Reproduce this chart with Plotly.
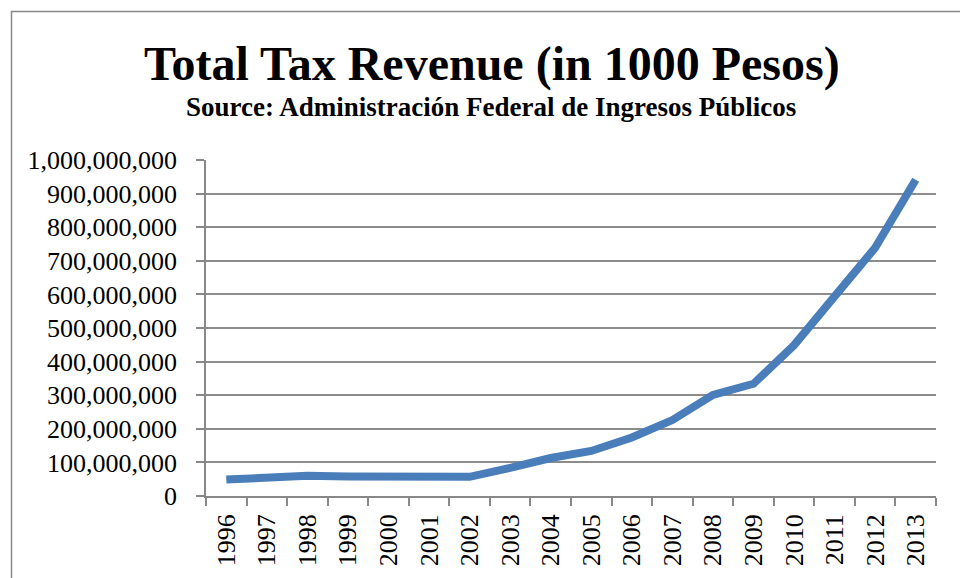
import plotly.graph_objects as go

years = [str(y) for y in range(1996, 2014)]
revenue = [49e6, 57e6, 60e6, 58e6, 58e6, 54e6, 57e6, 84e6, 113e6, 134e6,
           174e6, 226e6, 301e6, 334e6, 449e6, 594e6, 739e6, 941e6]
y_ticks = [i * 100_000_000 for i in range(11)]

L, R, T, B = 206, 936, 160, 498
W, H = 960, 578
pw, ph = R - L, B - T

def px(x):
    return (x - L) / pw

def py(y):
    return (B - y) / ph

fig = go.Figure()
fig.add_trace(go.Scatter(
    x=years, y=revenue, mode="lines",
    line=dict(color="#4A7EBB", width=8),
    hoverinfo="x+y", showlegend=False,
))

serif = "Liberation Serif, Times New Roman, serif"

fig.update_layout(
    width=W, height=H,
    margin=dict(l=L, r=W - R, t=T, b=H - B),
    paper_bgcolor="white", plot_bgcolor="white",
    font=dict(family=serif, color="black"),
    xaxis=dict(
        type="category", range=[-0.5, 17.5],
        tickson="boundaries", ticks="outside", ticklen=8, tickwidth=1.5,
        tickcolor="#888888", showline=True, linecolor="#888888", linewidth=1.5,
        showgrid=False, tickangle=-90,
        tickfont=dict(family=serif, size=26, color="black"),
        ticklabelstandoff=6,
    ),
    yaxis=dict(
        range=[0, 1e9], tickvals=y_ticks, tickformat=",",
        ticks="outside", ticklen=8, tickwidth=1.5, tickcolor="#888888",
        showline=True, linecolor="#888888", linewidth=1.5,
        showgrid=True, gridcolor="#8C8C8C", gridwidth=1.5,
        zeroline=False,
        tickfont=dict(family=serif, size=26, color="black"),
        ticklabelstandoff=14,
    ),
    shapes=[dict(
        type="rect", xref="paper", yref="paper",
        x0=px(11.5), x1=px(1000), y0=py(700), y1=py(10.5),
        line=dict(color="#888888", width=1.5), fillcolor="rgba(0,0,0,0)",
        layer="below",
    )],
    annotations=[
        dict(text="<b>Total Tax Revenue (in 1000 Pesos)</b>",
             xref="paper", yref="paper", x=px(492), y=py(63),
             xanchor="center", yanchor="middle", showarrow=False,
             font=dict(family=serif, size=48, color="black")),
        dict(text="<b>Source: Administración Federal de Ingresos Públicos</b>",
             xref="paper", yref="paper", x=px(491), y=py(107),
             xanchor="center", yanchor="middle", showarrow=False,
             font=dict(family=serif, size=27, color="black")),
    ],
)

fig.write_html("out.html")
